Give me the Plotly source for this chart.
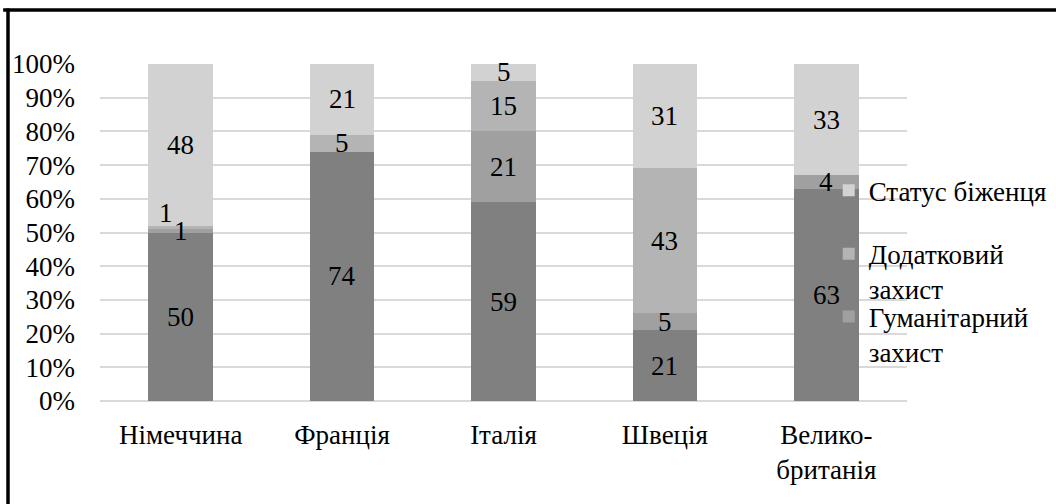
import plotly.graph_objects as go

countries = ["Німеччина", "Франція", "Італія", "Швеція", "Велико-<br>британія"]
rejected = [50, 74, 59, 21, 63]
humanitarian = [1, 0, 21, 5, 4]
subsidiary = [1, 5, 15, 43, 0]
refugee = [48, 21, 5, 31, 33]
y_ticks = [0, 10, 20, 30, 40, 50, 60, 70, 80, 90, 100]
y_tick_labels = [f"{v}%" for v in y_ticks]

# name, values, colour, legend id (None = hidden)
series = [
    ("Відмова", rejected, "#808080", None),
    ("Гуманітарний<br>захист", humanitarian, "#a0a0a0", "legend3"),
    ("Додатковий<br>захист", subsidiary, "#b4b4b4", "legend2"),
    ("Статус біженця", refugee, "#d2d2d2", "legend"),
]

FONT = "Liberation Serif"
FS = 27

fig = go.Figure()
for name, vals, color, leg in series:
    fig.add_trace(go.Bar(
        x=countries, y=vals, name=name, marker=dict(color=color, line=dict(width=0)),
        showlegend=leg is not None, legend=leg or "legend", textposition="none",
    ))

# data labels centred in each segment
base = [0] * len(countries)
annotations = []
for si, (name, vals, color, leg) in enumerate(series):
    for i, v in enumerate(vals):
        if v > 0:
            xs, ys = 0, 0
            # Germany's two tiny segments: labels nudged apart as in the source
            if i == 0 and si == 2:
                xs, ys = -15, 14
            annotations.append(dict(
                x=countries[i], y=base[i] + v / 2, text=str(v), showarrow=False,
                font=dict(family=FONT, size=FS, color="#000000"),
                xshift=xs, yshift=ys,
            ))
        base[i] += v

def leg_style(ytop):
    return dict(
        x=0.903, xanchor="left", y=ytop, yanchor="top", valign="top",
        font=dict(family=FONT, size=FS, color="#000000"),
        bgcolor="rgba(0,0,0,0)",
    )

fig.update_layout(
    barmode="stack",
    bargap=0.6,
    width=1056, height=504,
    margin=dict(l=100, r=149, t=64, b=103, autoexpand=False),
    paper_bgcolor="white", plot_bgcolor="white",
    font=dict(family=FONT, size=FS, color="#000000"),
    annotations=annotations,
    legend=leg_style(0.697),
    legend2=leg_style(0.508),
    legend3=leg_style(0.322),
    xaxis=dict(
        showgrid=False, showline=False, ticks="", ticklabelstandoff=15,
        tickfont=dict(family=FONT, size=FS),
    ),
    yaxis=dict(
        range=[0, 100], tickvals=y_ticks, ticktext=y_tick_labels,
        showgrid=True, gridcolor="#d9d9d9", gridwidth=2,
        zeroline=True, zerolinecolor="#d9d9d9", zerolinewidth=2,
        showline=False, ticks="", ticklabelstandoff=24,
        tickfont=dict(family=FONT, size=FS),
    ),
    shapes=[
        dict(type="line", xref="paper", yref="paper", x0=-0.12, x1=1.2,
             y0=1.16, y1=1.16, line=dict(color="#000000", width=3.5)),
        dict(type="line", xref="paper", yref="paper", x0=-0.114, x1=-0.114,
             y0=1.165, y1=-0.35, line=dict(color="#000000", width=3.5)),
    ],
)

fig.write_html("out.html", config={"displayModeBar": False},
               post_script="document.body.style.margin='0';")
